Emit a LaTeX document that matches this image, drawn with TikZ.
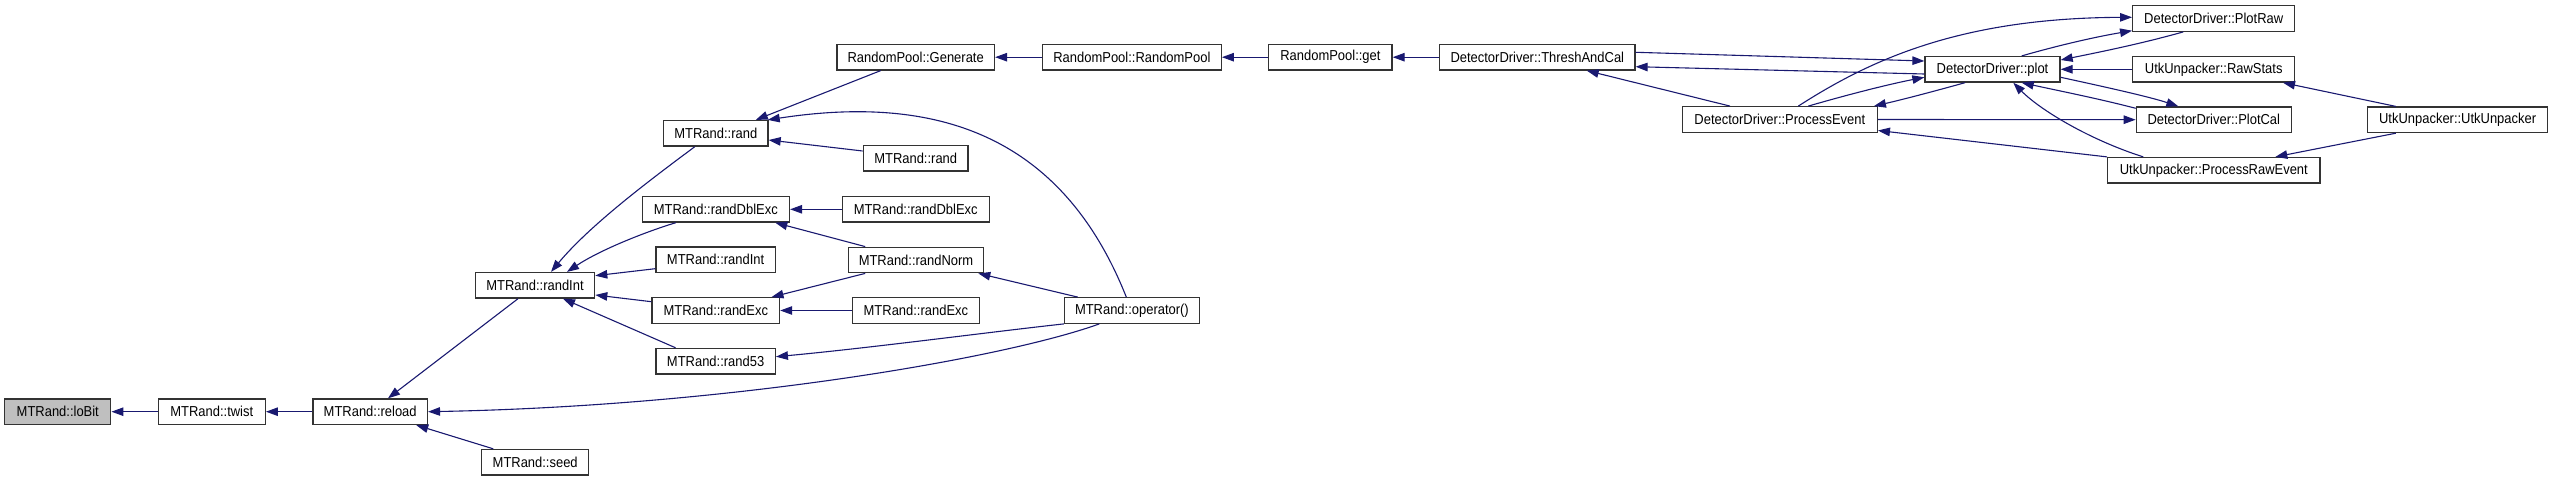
\documentclass[tikz,border=0pt]{standalone}
\usepackage{fontspec}
\setmainfont{Liberation Sans}[FakeStretch=0.9]
\usetikzlibrary{arrows.meta}
\definecolor{edgeblue}{HTML}{191970}
\definecolor{boxline}{HTML}{333333}
\definecolor{focusfill}{HTML}{BFBFBF}
\tikzset{
  fn/.style={draw=boxline, line width=1.3pt, fill=white, minimum height=25.5pt,
    inner sep=0pt, font=\fontsize{14.4}{16}\selectfont, text=black},
  e/.style={draw=edgeblue, line width=1.1pt, -{Triangle[length=12pt,width=8.5pt]}}
}
\begin{document}
\begin{tikzpicture}[x=1pt,y=-1pt]
\useasboundingbox (0,0) rectangle (2553,481);
% nodes
\node[fn, minimum width=106pt, fill=focusfill] (loBit) at (57.8,411.7) {MTRand::loBit};
\node[fn, minimum width=107pt] (twist) at (211.8,411.7) {MTRand::twist};
\node[fn, minimum width=114.4pt] (reload) at (370.2,411.7) {MTRand::reload};
\node[fn, minimum width=107pt] (seed) at (535.2,462.2) {MTRand::seed};
\node[fn, minimum width=119.3pt] (randIntL) at (535,285.3) {MTRand::randInt};
\node[fn, minimum width=104.5pt] (randU) at (715.8,133.3) {MTRand::rand};
\node[fn, minimum width=147.3pt] (randDblL) at (715.8,209.3) {MTRand::randDblExc};
\node[fn, minimum width=119.4pt] (randIntM) at (715.6,259.8) {MTRand::randInt};
\node[fn, minimum width=127.5pt] (randExcL) at (715.8,310.5) {MTRand::randExc};
\node[fn, minimum width=119.4pt] (rand53) at (715.6,361.2) {MTRand::rand53};
\node[fn, minimum width=104.8pt] (randL) at (915.7,158.3) {MTRand::rand};
\node[fn, minimum width=147pt] (randDblR) at (915.7,209.3) {MTRand::randDblExc};
\node[fn, minimum width=135pt] (randNorm) at (916,260) {MTRand::randNorm};
\node[fn, minimum width=126.6pt] (randExcR) at (915.9,310.5) {MTRand::randExc};
\node[fn, minimum width=157.5pt] (generate) at (915.7,57.2) {RandomPool::Generate};
\node[fn, minimum width=178.7pt] (rpool) at (1131.9,57.2) {RandomPool::RandomPool};
\node[fn, minimum width=123.2pt] (get) at (1330.4,57.2) {RandomPool::get};
\node[fn, minimum width=134.7pt] (oper) at (1131.9,310.5) {MTRand::operator()};
\node[fn, minimum width=195.3pt] (thresh) at (1537.3,57.2) {DetectorDriver::ThreshAndCal};
\node[fn, minimum width=195pt] (procEv) at (1779.8,119.5) {DetectorDriver::ProcessEvent};
\node[fn, minimum width=135pt] (plot) at (1992.5,69.3) {DetectorDriver::plot};
\node[fn, minimum width=162pt] (plotRaw) at (2213.7,18.5) {DetectorDriver::PlotRaw};
\node[fn, minimum width=162pt] (rawStats) at (2213.7,69.3) {UtkUnpacker::RawStats};
\node[fn, minimum width=155pt] (plotCal) at (2213.8,119.7) {DetectorDriver::PlotCal};
\node[fn, minimum width=212.3pt] (procRaw) at (2213.8,170.3) {UtkUnpacker::ProcessRawEvent};
\node[fn, minimum width=180pt] (utk) at (2457.6,119.8) {UtkUnpacker::UtkUnpacker};
% edges (arrow head at callee)
\draw[e] (twist.west) -- (loBit.east);
\draw[e] (reload.west) -- (twist.east);
\draw[e] ([xshift=-17pt]randIntL.south) -- ([xshift=17.8pt]reload.north);
\draw[e] ([xshift=-42pt]seed.north) -- ([xshift=46pt]reload.south);
\draw[e] ([xshift=-32.6pt]oper.south) .. controls (1005,358) and (730,406) .. (reload.east);
\draw[e] ([xshift=-40pt]rand53.north) -- ([xshift=28pt]randIntL.south);
\draw[e] ([yshift=8.8pt]randExcL.west) -- ([yshift=-9.7pt]randIntL.east);
\draw[e] ([yshift=-8.9pt]randIntM.west) -- ([yshift=9.6pt]randIntL.east);
\draw[e] ([xshift=-40pt]randDblL.south) .. controls (645,232) and (600,250) .. ([xshift=32pt]randIntL.north);
\draw[e] ([xshift=-21pt]randU.south) .. controls (650,180) and (590,225) .. ([xshift=16pt]randIntL.north);
\draw[e] ([xshift=-35pt]generate.south) -- ([xshift=40pt]randU.north);
\draw[e] ([xshift=-5.6pt]oper.north) .. controls (1060,130) and (930,95) .. ([xshift=-1pt]randU.north east);
\draw[e] ([yshift=7.3pt]randL.west) -- ([yshift=-6.7pt]randU.east);
\draw[e] (randDblR.west) -- (randDblL.east);
\draw[e] ([xshift=-50.8pt]randNorm.north) -- ([xshift=59.5pt]randDblL.south);
\draw[e] ([xshift=-50.8pt]randNorm.south) -- ([xshift=55.7pt]randExcL.north);
\draw[e] (randExcR.west) -- (randExcL.east);
\draw[e] ([xshift=-54.2pt]oper.north) -- ([xshift=62.3pt]randNorm.south);
\draw[e] (oper.south west) .. controls (990,332) and (870,348) .. ([yshift=4.5pt]rand53.east);
\draw[e] (rpool.west) -- (generate.east);
\draw[e] (get.west) -- (rpool.east);
\draw[e] (thresh.west) -- (get.east);
\draw[e] ([yshift=-4.7pt]plot.west) -- ([yshift=-9.5pt]thresh.east);
\draw[e] ([yshift=4.9pt]thresh.east) -- ([yshift=8.3pt]plot.west);
\draw[e] ([xshift=-49.8pt]procEv.north) -- ([xshift=49.4pt]thresh.south);
\draw[e] ([xshift=28.5pt]procEv.north) .. controls (1850,94) and (1890,84) .. ([yshift=-8pt]plot.west);
\draw[e] ([xshift=-27.5pt]plot.south) .. controls (1935,91) and (1905,99) .. ([xshift=-4pt]procEv.north east);
\draw[e] ([xshift=18.5pt]procEv.north) .. controls (1870,60) and (1960,18) .. ([yshift=1.2pt]plotRaw.west);
\draw[e] ([xshift=-30.4pt]plotRaw.south) .. controls (2140,44) and (2100,52) .. ([yshift=9.3pt]plot.east);
\draw[e] ([xshift=29.2pt]plot.north) .. controls (2060,45) and (2095,37) .. ([yshift=-12.2pt]plotRaw.west);
\draw[e] (rawStats.west) -- (plot.east);
\draw[e] ([yshift=-8pt]plot.east) .. controls (2110,88) and (2150,97) .. ([xshift=-35.5pt]plotCal.north);
\draw[e] ([yshift=11.4pt]plotCal.west) .. controls (2100,99) and (2060,91) .. ([xshift=29.2pt]plot.south);
\draw[e] (procEv.east) -- (plotCal.west);
\draw[e] ([xshift=-70.5pt]procRaw.north) .. controls (2090,140) and (2040,110) .. ([xshift=20.8pt]plot.south);
\draw[e] (procRaw.north west) -- ([yshift=-11pt]procEv.east);
\draw[e] ([xshift=-61.8pt]utk.north) -- ([xshift=69.3pt]rawStats.south);
\draw[e] ([xshift=-61.8pt]utk.south) -- ([xshift=61.5pt]procRaw.north);
\end{tikzpicture}
\end{document}
